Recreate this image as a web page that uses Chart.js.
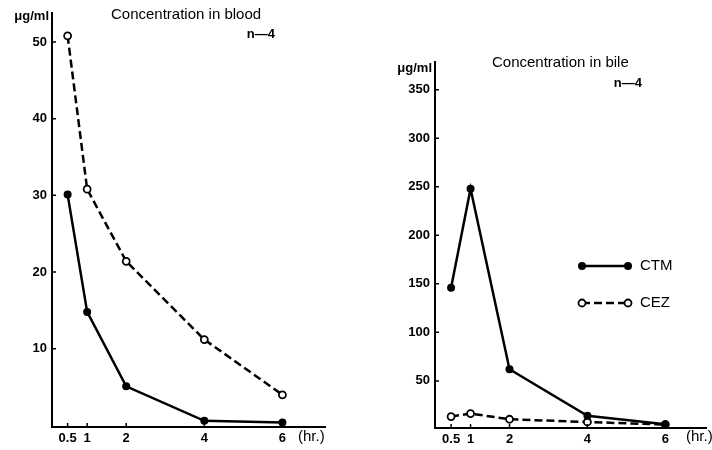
<!DOCTYPE html>
<html>
<head>
<meta charset="UTF-8">
<title>Concentration in blood and bile</title>
<style>
  body { margin: 0; background: #fff; }
  #wrap { position: relative; width: 712px; height: 450px; overflow: hidden; }
  .panel { position: absolute; top: 0; height: 450px; }
  #left { left: 0; width: 345px; }
  #right { left: 345px; width: 367px; }
</style>
</head>
<body>
<div id="wrap">
  <div class="panel" id="left"><canvas id="blood" width="345" height="450"></canvas></div>
  <div class="panel" id="right"><canvas id="bile" width="367" height="450"></canvas></div>
</div>
<script src="https://cdn.jsdelivr.net/npm/chart.js"></script>
<script>
// data
const hours = [0.5, 1, 2, 4, 6];
const hourLabels = ['0.5', '1', '2', '4', '6'];
const bloodCTM = [30.1, 14.8, 5.1, 0.6, 0.4];
const bloodCEZ = [50.8, 30.8, 21.4, 11.2, 4.0];
const bileCTM = [146, 248, 62, 14, 5.4];
const bileCEZ = [13.3, 16.4, 10.5, 7.7, 5.0];
const bloodTicks = [10, 20, 30, 40, 50];
const bileTicks = [50, 100, 150, 200, 250, 300, 350];

const tickFont = { family: 'Liberation Sans', size: 13, weight: 'bold' };
const textFont = '15px "Liberation Sans"';
const boldFont = 'bold 13px "Liberation Sans"';

function pts(ys) {
  return hours.map((h, i) => ({ x: h, y: ys[i] }));
}

function ctmSet(ys) {
  return {
    label: 'CTM', data: pts(ys),
    borderColor: '#000', backgroundColor: '#000', borderWidth: 2.5,
    pointRadius: 4, pointBackgroundColor: '#000', pointBorderWidth: 0
  };
}
function cezSet(ys) {
  return {
    label: 'CEZ', data: pts(ys),
    borderColor: '#000', backgroundColor: '#fff', borderWidth: 2.5, borderDash: [8, 4],
    pointRadius: 3.5, pointBackgroundColor: '#fff', pointBorderColor: '#000', pointBorderWidth: 1.8
  };
}

// inward tick marks, titles and legend
const extras = {
  id: 'extras',
  afterDraw(chart, args, opts) {
    const ctx = chart.ctx;
    const xs = chart.scales.x, ys = chart.scales.y;
    ctx.save();
    ctx.strokeStyle = '#000';
    ctx.lineWidth = 1.5;
    ctx.beginPath();
    opts.yTicks.forEach(v => {
      const py = ys.getPixelForValue(v);
      ctx.moveTo(xs.left, py); ctx.lineTo(xs.left + 4, py);
    });
    hours.forEach(v => {
      const px = xs.getPixelForValue(v);
      ctx.moveTo(px, ys.bottom); ctx.lineTo(px, ys.bottom - 4);
    });
    ctx.stroke();

    ctx.fillStyle = '#000';
    ctx.textBaseline = 'middle';
    opts.texts.forEach(t => {
      ctx.font = t.font;
      ctx.textAlign = t.align || 'left';
      ctx.fillText(t.text, t.x, t.y);
    });

    if (opts.legend) {
      const lg = opts.legend;
      chart.data.datasets.forEach((ds, i) => {
        const y = lg.y + i * lg.gap;
        ctx.beginPath();
        ctx.lineWidth = 2.5;
        ctx.setLineDash(ds.borderDash || []);
        ctx.moveTo(lg.x0, y); ctx.lineTo(lg.x1, y);
        ctx.stroke();
        ctx.setLineDash([]);
        [lg.x0, lg.x1].forEach(px => {
          ctx.beginPath();
          ctx.arc(px, y, ds.pointRadius, 0, Math.PI * 2);
          ctx.fillStyle = ds.pointBackgroundColor;
          ctx.fill();
          if (ds.pointBorderWidth) {
            ctx.lineWidth = ds.pointBorderWidth;
            ctx.stroke();
          }
        });
        ctx.fillStyle = '#000';
        ctx.font = textFont;
        ctx.textAlign = 'left';
        ctx.fillText(ds.label, lg.x1 + 12, y);
      });
    }
    ctx.restore();
  }
};

function makeChart(id, datasets, cfg) {
  return new Chart(document.getElementById(id), {
    type: 'line',
    data: { datasets: datasets },
    plugins: [extras],
    options: {
      responsive: false,
      animation: false,
      devicePixelRatio: 1,
      layout: { padding: { top: cfg.top, right: cfg.right, left: 0, bottom: 0 } },
      plugins: {
        legend: { display: false },
        tooltip: { enabled: false },
        extras: { yTicks: cfg.yTicks, texts: cfg.texts, legend: cfg.legend }
      },
      scales: {
        x: {
          type: 'linear', min: cfg.xMin, max: cfg.xMax,
          afterBuildTicks: s => { s.ticks = hours.map(v => ({ value: v })); },
          afterFit: s => { s.height = cfg.xHeight; },
          grid: { display: false, tickLength: 0 },
          border: { display: true, color: '#000', width: 2 },
          ticks: {
            autoSkip: false, maxRotation: 0, padding: 4, color: '#000', font: tickFont,
            callback: v => hourLabels[hours.indexOf(v)]
          }
        },
        y: {
          min: cfg.yMin, max: cfg.yMax,
          afterBuildTicks: s => { s.ticks = cfg.yTicks.map(v => ({ value: v })); },
          afterFit: s => { s.width = cfg.yWidth; },
          grid: { display: false, tickLength: 0 },
          border: { display: true, color: '#000', width: 2 },
          ticks: { padding: 5, color: '#000', font: tickFont }
        }
      }
    }
  });
}

makeChart('blood', [ctmSet(bloodCTM), cezSet(bloodCEZ)], {
  top: 12, right: 20, yWidth: 52, xHeight: 23,
  xMin: 0.1, xMax: 7.09, yMin: -0.2, yMax: 53.8, yTicks: bloodTicks,
  texts: [
    { text: 'μg/ml', x: 49, y: 16, font: boldFont, align: 'right' },
    { text: 'Concentration in blood', x: 111, y: 15, font: textFont },
    { text: 'n—4', x: 275, y: 34, font: boldFont, align: 'right' },
    { text: '(hr.)', x: 298, y: 437, font: textFont }
  ]
});

makeChart('bile', [ctmSet(bileCTM), cezSet(bileCEZ)], {
  top: 62, right: 0, yWidth: 90, xHeight: 22,
  xMin: 0.087, xMax: 7.05, yMin: 1.5, yMax: 378.5, yTicks: bileTicks,
  texts: [
    { text: 'μg/ml', x: 87, y: 68, font: boldFont, align: 'right' },
    { text: 'Concentration in bile', x: 147, y: 63, font: textFont },
    { text: 'n—4', x: 297, y: 83, font: boldFont, align: 'right' },
    { text: '(hr.)', x: 341, y: 437, font: textFont }
  ],
  legend: { x0: 237, x1: 283, y: 266, gap: 37 }
});
</script>
</body>
</html>
